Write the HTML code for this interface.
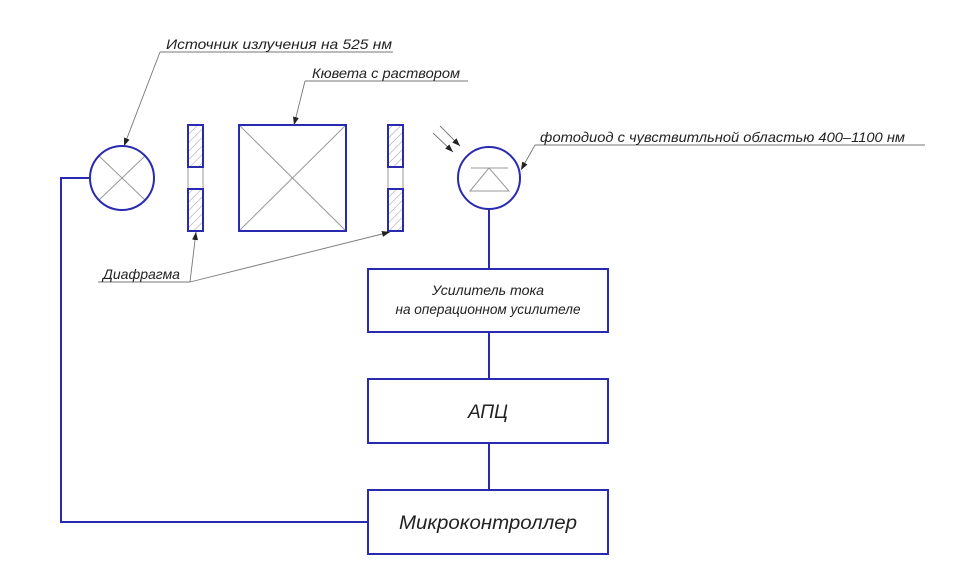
<!DOCTYPE html>
<html><head><meta charset="utf-8"><style>
html,body{margin:0;padding:0;background:#fff;}
svg{display:block;}
text{font-family:"Liberation Sans","DejaVu Sans",sans-serif;font-style:italic;fill:#222;}
</style></head><body>
<svg width="960" height="580" viewBox="0 0 960 580" xmlns="http://www.w3.org/2000/svg">
<defs>
<pattern id="h" width="6" height="6" patternUnits="userSpaceOnUse" patternTransform="rotate(45)">
<line x1="0" y1="0" x2="0" y2="6" stroke="#999" stroke-width="1"/>
</pattern>
<marker id="a" markerWidth="8" markerHeight="6" refX="8" refY="3" orient="auto" markerUnits="userSpaceOnUse">
<path d="M0,0 L8,3 L0,6 Z" fill="#222"/></marker>
</defs>
<g stroke="#999" stroke-width="1" fill="none">
<!-- lamp cross -->
<line x1="99" y1="156" x2="145" y2="200"/><line x1="145" y1="156" x2="99" y2="200"/>
<!-- cuvette X -->
<line x1="239" y1="125" x2="346" y2="231"/><line x1="346" y1="125" x2="239" y2="231"/>
<!-- diaphragm gaps -->
<line x1="188" y1="167" x2="188" y2="189"/><line x1="203" y1="167" x2="203" y2="189"/>
<line x1="388" y1="167" x2="388" y2="189"/><line x1="403" y1="167" x2="403" y2="189"/>
<!-- photodiode symbol -->
<line x1="471" y1="168" x2="508" y2="168"/>
<path d="M489,168 L470,191 L509,191 Z"/>
</g>
<g fill="url(#h)" stroke="#2a2ab0" stroke-width="2">
<rect x="188" y="125" width="15" height="42"/><rect x="188" y="189" width="15" height="42"/>
<rect x="388" y="125" width="15" height="42"/><rect x="388" y="189" width="15" height="42"/>
</g>
<g stroke="#2a2ab0" stroke-width="2" fill="none">
<circle cx="122" cy="178" r="32"/>
<rect x="239" y="125" width="107" height="106"/>
<circle cx="489" cy="178" r="31"/>
<rect x="368" y="269" width="240" height="63"/>
<rect x="368" y="379" width="240" height="64"/>
<rect x="368" y="490" width="240" height="64"/>
<line x1="489" y1="209" x2="489" y2="269"/>
<line x1="489" y1="332" x2="489" y2="379"/>
<line x1="489" y1="443" x2="489" y2="490"/>
<polyline points="90,178 61,178 61,522 368,522"/>
</g>
<!-- leaders -->
<g stroke="#777" stroke-width="0.9" fill="none">
<line x1="160" y1="52" x2="393" y2="52"/>
<line x1="160" y1="52" x2="124" y2="146" marker-end="url(#a)"/>
<line x1="305" y1="81" x2="468" y2="81"/>
<line x1="305" y1="81" x2="294" y2="125" marker-end="url(#a)"/>
<line x1="535" y1="145" x2="925" y2="145"/>
<line x1="535" y1="145" x2="521" y2="170" marker-end="url(#a)"/>
<line x1="98" y1="282" x2="190" y2="282"/>
<line x1="190" y1="282" x2="196" y2="232" marker-end="url(#a)"/>
<line x1="190" y1="282" x2="390" y2="232" marker-end="url(#a)"/>
<line x1="433" y1="133" x2="453" y2="152" marker-end="url(#a)"/>
<line x1="440" y1="126" x2="460" y2="146" marker-end="url(#a)"/>
</g>
<g font-size="14">
<text x="166" y="49" textLength="226" lengthAdjust="spacingAndGlyphs">Источник излучения на 525 нм</text>
<text x="312" y="78" textLength="148" lengthAdjust="spacingAndGlyphs">Кювета с раствором</text>
<text x="540" y="142" textLength="365" lengthAdjust="spacingAndGlyphs">фотодиод с чувствитльной областью 400–1100 нм</text>
<text x="103" y="279" textLength="77" lengthAdjust="spacingAndGlyphs">Диафрагма</text>
<text x="488" y="295" text-anchor="middle" textLength="112" lengthAdjust="spacingAndGlyphs">Усилитель тока</text>
<text x="488" y="314" text-anchor="middle" textLength="185" lengthAdjust="spacingAndGlyphs">на операционном усилителе</text>
</g>
<text x="488" y="418" text-anchor="middle" font-size="19" textLength="40" lengthAdjust="spacingAndGlyphs">АПЦ</text>
<text x="488" y="529" text-anchor="middle" font-size="19" textLength="178" lengthAdjust="spacingAndGlyphs">Микроконтроллер</text>
</svg>
</body></html>
